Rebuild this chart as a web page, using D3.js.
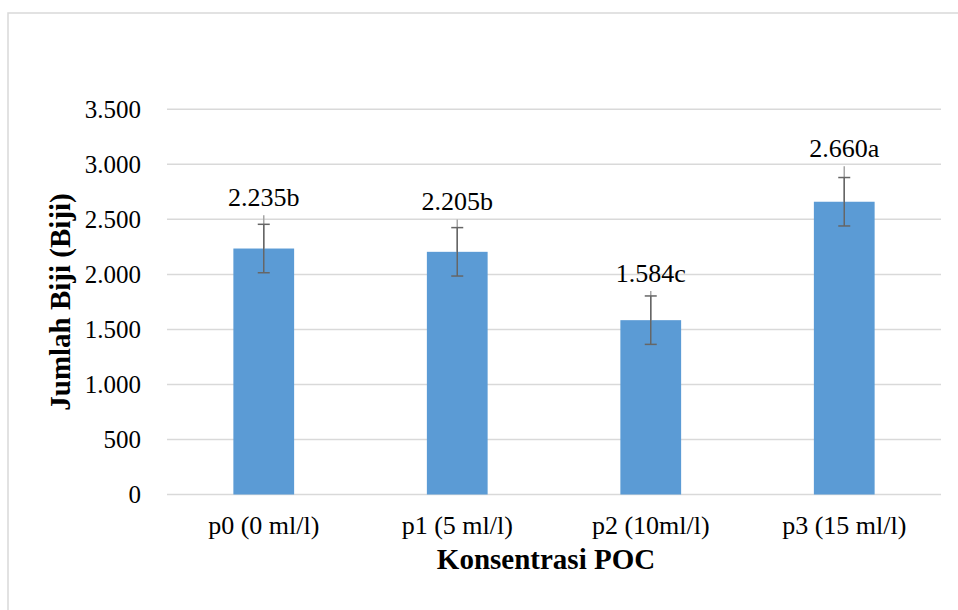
<!DOCTYPE html>
<html>
<head>
<meta charset="utf-8">
<script src="https://cdn.jsdelivr.net/npm/d3@7.9.0/dist/d3.min.js"></script>
<style>
  body { margin: 0; background: #fff; }
  svg text { font-family: "Liberation Serif", "Times New Roman", serif; fill: #000; }
</style>
</head>
<body>
<svg width="958" height="610"></svg>
<script>
// data
const categories = ["p0 (0 ml/l)", "p1 (5 ml/l)", "p2 (10ml/l)", "p3 (15 ml/l)"];
const values = [2235, 2205, 1584, 2660];
const letters = ["b", "b", "c", "a"];
const errors = [220, 220, 220, 220];
const upperLine = [2537, 2499, 1848, 2983];
const yTicks = [0, 500, 1000, 1500, 2000, 2500, 3000, 3500];

const svg = d3.select('svg');
const nf = d3.formatLocale({ decimal: ",", thousands: ".", grouping: [3], currency: ["", ""] }).format(",");

// chart frame
svg.append('rect')
    .attr('x', 8).attr('y', 13)
    .attr('width', 1000).attr('height', 700)
    .attr('fill', '#fff')
    .attr('stroke', '#d9d9d9')
    .attr('stroke-width', 1.5);

let x = d3.scaleBand().domain(categories).range([167, 941]).paddingInner(0.686).paddingOuter(0.343);
let y = d3.scaleLinear().domain([0, 3500]).range([494.5, 109.3]);

// gridlines
svg.append('g').selectAll('line')
    .data(yTicks)
    .join('line')
    .attr('x1', 167).attr('x2', 941)
    .attr('y1', (d) => y(d)).attr('y2', (d) => y(d))
    .attr('stroke', '#d9d9d9')
    .attr('stroke-width', 1.5);

// y tick labels
svg.append('g').selectAll('text')
    .data(yTicks)
    .join('text')
    .attr('x', 141)
    .attr('y', (d) => y(d))
    .attr('dy', '0.35em')
    .attr('text-anchor', 'end')
    .attr('font-size', 25)
    .text((d) => nf(d));

// bars
svg.append('g').selectAll('rect')
    .data(values)
    .join('rect')
    .attr('x', (d, i) => x(categories[i]))
    .attr('y', (d) => y(d))
    .attr('width', x.bandwidth())
    .attr('height', (d) => y(0) - y(d))
    .attr('fill', '#5b9bd5');

// error bars
let eb = svg.append('g');
values.forEach((v, i) => {
    let cx = x(categories[i]) + x.bandwidth() / 2;
    eb.append('line')
        .attr('x1', cx).attr('x2', cx)
        .attr('y1', y(upperLine[i])).attr('y2', y(v))
        .attr('stroke', '#a6a6a6').attr('stroke-width', 1.5);
    eb.append('line')
        .attr('x1', cx).attr('x2', cx)
        .attr('y1', y(v + errors[i])).attr('y2', y(v - errors[i]))
        .attr('stroke', '#666').attr('stroke-width', 1.5);
    [v + errors[i], v - errors[i]].forEach((e) => {
        eb.append('line')
            .attr('x1', cx - 6).attr('x2', cx + 6)
            .attr('y1', y(e)).attr('y2', y(e))
            .attr('stroke', '#666').attr('stroke-width', 1.5);
    });
});

// value labels
svg.append('g').selectAll('text')
    .data(values)
    .join('text')
    .attr('x', (d, i) => x(categories[i]) + x.bandwidth() / 2)
    .attr('y', (d, i) => y(upperLine[i]) - 9)
    .attr('text-anchor', 'middle')
    .attr('font-size', 26)
    .text((d, i) => nf(d) + letters[i]);

// x labels
svg.append('g').selectAll('text')
    .data(categories)
    .join('text')
    .attr('x', (d) => x(d) + x.bandwidth() / 2)
    .attr('y', 534)
    .attr('text-anchor', 'middle')
    .attr('font-size', 26)
    .text((d) => d);

// axis titles
svg.append('text')
    .attr('x', 546).attr('y', 569)
    .attr('text-anchor', 'middle')
    .attr('font-size', 29)
    .attr('font-weight', 'bold')
    .text('Konsentrasi POC');

svg.append('text')
    .attr('transform', 'translate(70,302) rotate(-90)')
    .attr('text-anchor', 'middle')
    .attr('font-size', 29)
    .attr('font-weight', 'bold')
    .text('Jumlah Biji (Biji)');
</script>
</body>
</html>
